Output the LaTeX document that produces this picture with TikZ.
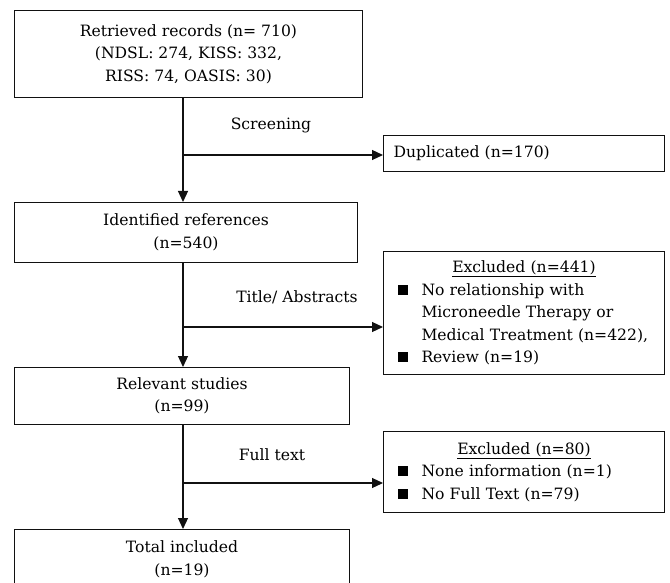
\documentclass[tikz,border=0pt]{standalone}
\usepackage{fontspec}
\setmainfont{DejaVu Serif}
\usepackage{tikz}
\usetikzlibrary{arrows.meta,positioning}
\definecolor{ink}{HTML}{111111}
\newcommand{\bsq}{\makebox[24pt][l]{\rule[0.5pt]{10pt}{10pt}}}
\newcommand{\bline}{\par\hangindent=24pt\hangafter=1\noindent\bsq}

\begin{document}
\begin{tikzpicture}[x=1pt,y=-1pt,font=\fontsize{15.6}{22.5}\selectfont,
  stagebox/.style={draw=ink,line width=1pt,anchor=north west,align=center,inner sep=0pt},
  sidebox/.style={draw=ink,line width=1pt,anchor=north west,align=left,inner ysep=0pt},
  flow/.style={draw=ink,line width=1.2pt,-{Triangle[length=11pt,width=10pt]}}]
  \useasboundingbox (0,0) rectangle (670,583);
  % main column
  \foreach \name/\y/\w/\h/\txt in {
    retrieved/10/348/87/{Retrieved records (n= 710)\\(NDSL: 274, KISS: 332,\\RISS: 74, OASIS: 30)},
    identified/202/343/60/{Identified references\\(n=540)},
    relevant/367/335/57/{Relevant studies\\(n=99)},
    included/529/335/60/{Total included\\(n=19)}} {
    \node[stagebox,minimum width=\w pt,minimum height=\h pt] (\name) at (14,\y) {\txt};
  }
  % side boxes
  \node[sidebox,minimum height=36pt,text width=261pt,inner xsep=10pt] (duplicated) at (383,135) {Duplicated (n=170)};
  \node[sidebox,minimum height=123pt,text width=253pt,inner xsep=14pt] (excluded1) at (383,251) {%
    {\centering\underline{Excluded (n=441)}\par}%
    \bline No relationship with\newline Microneedle Therapy or\newline Medical Treatment (n=422),%
    \bline Review (n=19)};
  \node[sidebox,minimum height=81pt,text width=253pt,inner xsep=14pt] (excluded2) at (383,431) {%
    {\centering\underline{Excluded (n=80)}\par}%
    \bline None information (n=1)%
    \bline No Full Text (n=79)};
  % labels
  \node (screening) at (271,125) {Screening};
  \node (titleabs) at (297,297) {Title/ Abstracts};
  \node (fulltext) at (272,455) {Full text};
  % connectors
  \coordinate (trunk) at (183,0);
  \coordinate (split1) at (183,155);
  \coordinate (split2) at (183,327);
  \coordinate (split3) at (183,483);
  \draw[flow] (retrieved.south -| trunk) -- (identified.north -| trunk);
  \draw[flow] (identified.south -| trunk) -- (relevant.north -| trunk);
  \draw[flow] (relevant.south -| trunk) -- (included.north -| trunk);
  \draw[flow] (split1) -- (split1 -| duplicated.west);
  \draw[flow] (split2) -- (split2 -| excluded1.west);
  \draw[flow] (split3) -- (split3 -| excluded2.west);
\end{tikzpicture}
\end{document}
